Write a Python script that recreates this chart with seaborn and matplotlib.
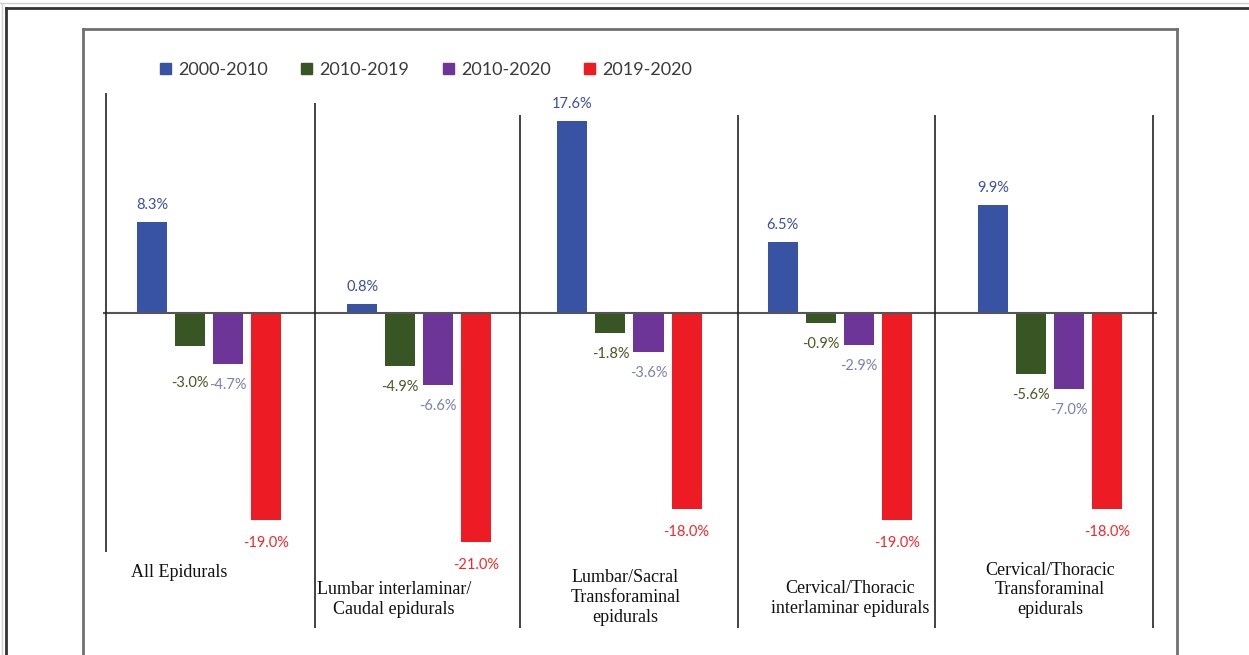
import numpy as np
import pandas as pd
import matplotlib
matplotlib.use('Agg')
import matplotlib.pyplot as plt
from matplotlib.lines import Line2D
import seaborn as sns

# data
categories = ['All Epidurals',
              'Lumbar interlaminar/\nCaudal epidurals',
              'Lumbar/Sacral\nTransforaminal\nepidurals',
              'Cervical/Thoracic\ninterlaminar epidurals',
              'Cervical/Thoracic\nTransforaminal\nepidurals']
periods = ['2000-2010', '2010-2019', '2010-2020', '2019-2020']
chg_2000_2010 = [8.3, 0.8, 17.6, 6.5, 9.9]
chg_2010_2019 = [-3.0, -4.9, -1.8, -0.9, -5.6]
chg_2010_2020 = [-4.7, -6.6, -3.6, -2.9, -7.0]
chg_2019_2020 = [-19.0, -21.0, -18.0, -19.0, -18.0]

bar_colors = ['#3953a4', '#375623', '#6e3598', '#ed1c24']
label_colors = ['#3b4f9e', '#4a5722', '#7a80b4', '#ee2b2b']

W, H = 1249, 655
fig = plt.figure(figsize=(W / 100, H / 100), dpi=100)
fig.patch.set_facecolor('white')

def px(x, y):
    return x / W, 1 - y / H

# outer and inner frames of the image
for (x0, y0, x1, y1, c, lw) in [
        (0, 3, W, 3, '#cfcfcf', 1.0), (2, 3, 2, H, '#cfcfcf', 1.0),
        (6, 8, W, 8, '#333333', 2.0), (6, 8, 6, H, '#333333', 2.0),
        (83, 29, 1177, 29, '#707070', 2.0), (83, 29, 83, H, '#707070', 2.0),
        (1177, 29, 1177, H, '#707070', 2.0)]:
    a, b = px(x0, y0)
    c2, d = px(x1, y1)
    fig.add_artist(Line2D([a, c2], [b, d], transform=fig.transFigure, color=c, lw=lw))

df = pd.DataFrame({
    'category': np.repeat(categories, 4),
    'period': periods * len(categories),
    'change': np.ravel(np.column_stack([chg_2000_2010, chg_2010_2019,
                                        chg_2010_2020, chg_2019_2020])),
})

ax = fig.add_axes([103 / W, 1 - 640 / H, 1054 / W, 580 / H])
sns.barplot(data=df, x='category', y='change', hue='period', order=categories,
            hue_order=periods, palette=bar_colors, saturation=1, width=0.724,
            gap=0.21, errorbar=None, legend=False, ax=ax)
ax.set_xlim(-0.504, 4.509)
ax.set_ylim(-30.0, 23.2)
ax.axis('off')
ax.axhline(0, color='#555555', lw=1.5, zorder=1)

# group separators
ax.vlines([-0.49, 0.504, 1.479, 2.516, 3.453, 4.49],
          [-21.9, -28.9, -28.9, -28.9, -28.9, -28.9],
          [20.2, 19.3, 18.2, 18.2, 18.2, 18.2], color='#222222', lw=1.2)

# value labels (purple first so green sits on top, as in the original)
for k in [0, 2, 1, 3]:
    for j, bar in enumerate(ax.containers[k]):
        v = bar.get_height()
        xc = bar.get_x() + bar.get_width() / 2
        if v >= 0:
            off = 17
        else:
            off = -23 if k == 3 else -21
            if k == 1 and j == 0:
                off = -37
        ax.annotate(f'{v:.1f}%', (xc, v), xytext=(0, off), textcoords='offset pixels',
                    ha='center', va='center', fontsize=10.5, family='Lato',
                    color=label_colors[k], annotation_clip=False)

# category labels
cat_dx = [-0.14, -0.12, -0.02, 0.05, 0.0]
cat_y = [-23.8, -26.3, -26.1, -26.2, -25.4]
for i, name in enumerate(categories):
    ax.text(i + cat_dx[i], cat_y[i], name, ha='center', va='center', fontsize=13,
            family='Liberation Serif', color='#111111', linespacing=1.2)

# legend
handles = [plt.Rectangle((0, 0), 1, 1, color=c) for c in bar_colors]
fig.legend(handles, periods, loc='center left', bbox_to_anchor=px(144, 70), ncol=4,
           frameon=False, prop={'family': 'Lato', 'size': 13}, labelcolor='#3a3a3a',
           handlelength=0.6, handleheight=0.6, handletextpad=0.4, columnspacing=1.85)

fig.savefig('out.png', dpi=100)
